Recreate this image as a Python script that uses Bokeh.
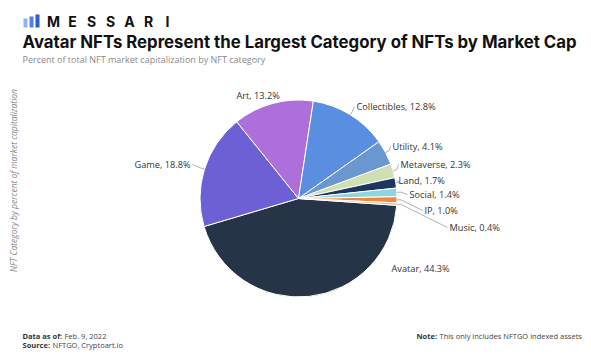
import numpy as np
from bokeh.plotting import figure
from bokeh.models import Range1d
from bokeh.core.properties import value
from bokeh.embed import file_html
from bokeh.resources import INLINE

# ---- data ----
categories = ["Avatar", "Game", "Art", "Collectibles", "Utility",
              "Metaverse", "Land", "Social", "IP", "Music"]
shares = [44.3, 18.8, 13.2, 12.8, 4.1, 2.3, 1.7, 1.4, 1.0, 0.4]
colors = ["#263447", "#6c60d4", "#ad6fd9", "#5a8ee0", "#6a97cf",
          "#cddfb3", "#1f3561", "#8fd4e2", "#f0883a", "#f6b48c"]

title = "Avatar NFTs Represent the Largest Category of NFTs by Market Cap"
subtitle = "Percent of total NFT market capitalization by NFT category"
ytitle = "NFT Category by percent of market capitalization"

# ---- layout (page pixel coordinates, y measured downward -> use -y) ----
W, H = 591, 358
cx, cy, R = 298, 198, 98.5
start_cw_deg = 94.0  # clockwise-from-top angle where the first slice begins

# label anchors: (x, y, align, connector?)
label_pos = [
    (391, 268, "left", False),
    (190, 164, "right", True),
    (236, 95, "left", False),
    (356, 106, "left", True),
    (392, 146, "left", True),
    (400, 164, "left", True),
    (398, 180, "left", True),
    (409, 194, "left", True),
    (424, 210, "left", True),
    (449, 227, "left", True),
]

p = figure(width=W, height=H, output_backend="svg", toolbar_location=None,
           x_range=Range1d(0, W), y_range=Range1d(-H, 0),
           min_border=0, outline_line_color=None, tools="")
p.axis.visible = False
p.grid.visible = False
p.background_fill_color = "white"
p.border_fill_color = "white"

# ---- pie ----
vals = np.array(shares, dtype=float)
cum = np.concatenate([[0], np.cumsum(vals)]) / vals.sum() * 360.0
cw_start = start_cw_deg + cum[:-1]
cw_end = start_cw_deg + cum[1:]
start_ang = np.radians(90 - cw_start)
end_ang = np.radians(90 - cw_end)
p.wedge(x=cx, y=-cy, radius=R, start_angle=start_ang, end_angle=end_ang,
        direction="clock", fill_color=colors, line_color="white", line_width=1)

# ---- connectors & labels ----
mid = np.radians(90 - (cw_start + cw_end) / 2)
xs_c, ys_c = [], []
for i, (lx, ly, al, con) in enumerate(label_pos):
    if not con:
        continue
    ex = cx + R * np.cos(mid[i])
    ey = -cy + R * np.sin(mid[i])
    ox = cx + (R + 4) * np.cos(mid[i])
    oy = -cy + (R + 4) * np.sin(mid[i])
    tx = lx - 2 if al == "left" else lx + 2
    xs_c.append([ex, ox, tx])
    ys_c.append([ey, oy, -ly])
p.multi_line(xs_c, ys_c, line_color="#a0a0a0", line_width=0.8)

labels = [f"{c}, {v}%" for c, v in zip(categories, shares)]
for (lx, ly, al, con), t in zip(label_pos, labels):
    p.text(x=[lx], y=[-ly], text=[t], text_align=al, text_baseline="middle",
           text_font=value("Open Sans"), text_font_size="9.2px",
           text_color="#333333")

# ---- header ----
logo_x = [23, 29, 35]
logo_top = [18, 16, 14]
logo_cols = ["#8fb4ee", "#4f82dc", "#2b5fc4"]
p.quad(left=[x for x in logo_x], right=[x + 4 for x in logo_x],
       top=[-t for t in logo_top], bottom=[-27] * 3,
       fill_color=logo_cols, line_color=None)
for i, ch in enumerate("MESSARI"):
    p.text(x=[53 + i * 19], y=[-21], text=[ch], text_align="center",
           text_baseline="middle", text_font=value("Inter"),
           text_font_size="14px", text_font_style="bold", text_color="#111111")

p.text(x=[22], y=[-41], text=[title], text_align="left", text_baseline="middle",
       text_font=value("Inter"), text_font_size="16.8px",
       text_font_style="bold", text_color="#111111")
p.text(x=[22], y=[-59], text=[subtitle], text_align="left",
       text_baseline="middle", text_font=value("Open Sans"),
       text_font_size="9px", text_color="#8a8a8a")

p.text(x=[13], y=[-180], text=[ytitle], angle=np.pi / 2, text_align="center",
       text_baseline="middle", text_font=value("Open Sans"),
       text_font_size="8.5px", text_font_style="italic", text_color="#8a8a8a")

# ---- footer ----
def two_part(x, y, bold, normal, gap):
    p.text(x=[x], y=[-y], text=[bold], text_align="left", text_baseline="middle",
           text_font=value("Open Sans"), text_font_size="7.5px",
           text_font_style="bold", text_color="#333333")
    p.text(x=[x + gap], y=[-y], text=[normal], text_align="left",
           text_baseline="middle", text_font=value("Open Sans"),
           text_font_size="7.5px", text_color="#444444")

two_part(22, 335, "Data as of:", "Feb. 9, 2022", 42)
two_part(22, 344, "Source:", "NFTGO, Cryptoart.io", 30)
two_part(416, 335, "Note:", "This only includes NFTGO indexed assets", 23)

open("out.html", "w").write(file_html(p, INLINE))
